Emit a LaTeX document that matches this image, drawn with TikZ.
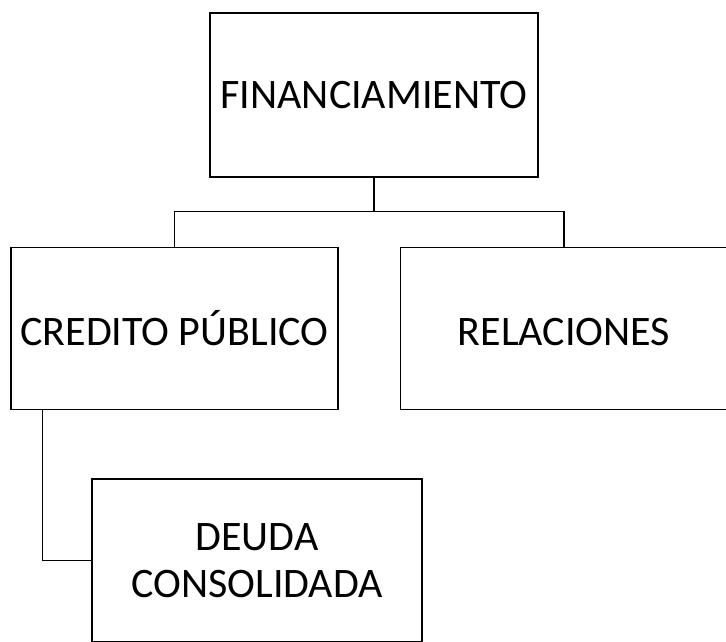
\documentclass[tikz,border=0pt]{standalone}
\usepackage{fontspec}
\setmainfont{Carlito}
\usepackage{tikz}
\usetikzlibrary{positioning}

\begin{document}
\begin{tikzpicture}[x=1pt, y=1pt, line width=1.4pt,
    box/.style={draw, rectangle, inner sep=0pt, minimum width=327pt, minimum height=162pt,
        align=center, font=\fontsize{42}{47}\selectfont}]
    \useasboundingbox (0,0) rectangle (726,641);

    \node[box, minimum width=328pt, minimum height=164pt] (fin) at (374,546) {FINANCIAMIENTO};
    \node[box, below=69pt of fin, xshift=-199.5pt] (cred) {CREDITO PÚBLICO};
    \node[box, right=61pt of cred] (rel) {\vphantom{Ú}RELACIONES};
    \node[box, minimum width=330pt, minimum height=163pt, below=68pt of cred, xshift=82.5pt] (deu) {DEUDA\\CONSOLIDADA};

    \draw (fin.south) -- ++(0,-34) coordinate (bus);
    \draw (bus) -| (cred.north);
    \draw (bus) -| (rel.north);
    \draw ([xshift=32pt]cred.south west) |- (deu.west);
\end{tikzpicture}
\end{document}
